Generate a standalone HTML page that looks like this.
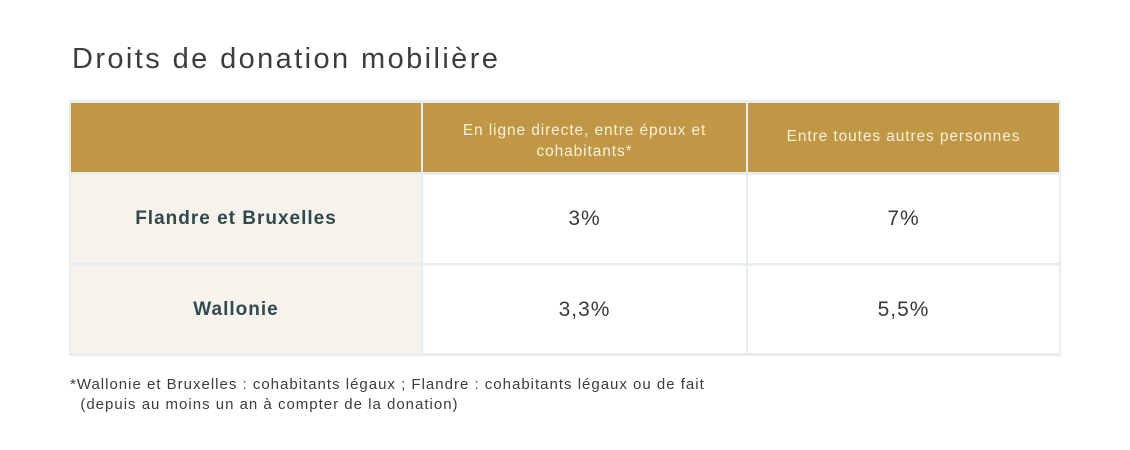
<!DOCTYPE html>
<html><head><meta charset="utf-8"><style>
body{margin:0;width:1130px;height:450px;background:#fff;position:relative;font-family:"Liberation Sans",sans-serif;overflow:hidden}
.a{position:absolute}
.c{position:absolute;display:flex;align-items:center;justify-content:center;text-align:center;box-sizing:border-box}
.h{background:#c09845;color:#f7efdc;font-size:15.5px;line-height:21px;letter-spacing:.9px}
.r{background:#f7f3ec;color:#2f4a4c;font-size:19px;font-weight:bold;letter-spacing:1px}
.v{background:#fff;color:#3a3a3a;font-size:21px;letter-spacing:1px}
</style></head><body>
<div class="a" style="left:72px;top:43px;font-size:29px;color:#3d3d3d;letter-spacing:2.4px">Droits de donation mobilière</div>
<div class="a" style="left:69px;top:100px;width:992px;height:256px;background:#e8eeee"></div>
<div class="c h" style="left:71px;top:103px;width:350px;height:69px"></div>
<div class="c h" style="left:423px;top:103px;width:323px;height:69px;padding:0 22px;align-items:flex-start;padding-top:17px">En ligne directe, entre époux et cohabitants*</div>
<div class="c h" style="left:748px;top:103px;width:311px;height:69px;padding-bottom:2px">Entre toutes autres personnes</div>
<div class="c r" style="left:71px;top:175px;width:350px;height:88px;padding-right:20px">Flandre et Bruxelles</div>
<div class="c v" style="left:423px;top:175px;width:323px;height:88px">3%</div>
<div class="c v" style="left:748px;top:175px;width:311px;height:88px">7%</div>
<div class="c r" style="left:71px;top:266px;width:350px;height:87px;padding-right:20px">Wallonie</div>
<div class="c v" style="left:423px;top:266px;width:323px;height:87px">3,3%</div>
<div class="c v" style="left:748px;top:266px;width:311px;height:87px">5,5%</div>
<div class="a" style="left:70px;top:375px;font-size:15px;line-height:20px;letter-spacing:1px;color:#3d3d3d;white-space:nowrap">*Wallonie et Bruxelles : cohabitants légaux ; Flandre : cohabitants légaux ou de fait<br>&nbsp;&nbsp;(depuis au moins un an à compter de la donation)</div>
</body></html>
